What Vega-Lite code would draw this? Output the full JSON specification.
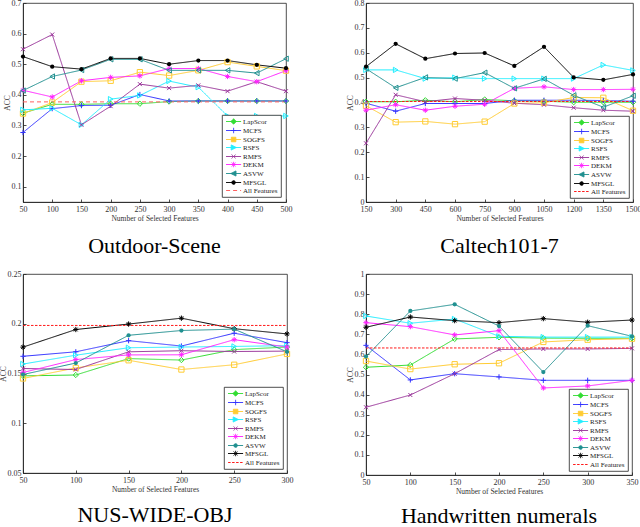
{
  "$schema": "https://vega.github.io/schema/vega-lite/v6.json",
  "padding": {"left": -2, "top": -2, "right": 0, "bottom": 0},
  "background": "white",
  "datasets": {
    "p1": [
      {"x":50,"m":"LapScor","v":0.340},{"x":100,"m":"LapScor","v":0.369},{"x":150,"m":"LapScor","v":0.369},{"x":200,"m":"LapScor","v":0.371},{"x":250,"m":"LapScor","v":0.371},{"x":300,"m":"LapScor","v":0.378},{"x":350,"m":"LapScor","v":0.380},{"x":400,"m":"LapScor","v":0.380},{"x":450,"m":"LapScor","v":0.380},{"x":500,"m":"LapScor","v":0.380},
      {"x":50,"m":"MCFS","v":0.277},{"x":100,"m":"MCFS","v":0.355},{"x":150,"m":"MCFS","v":0.365},{"x":200,"m":"MCFS","v":0.366},{"x":250,"m":"MCFS","v":0.401},{"x":300,"m":"MCFS","v":0.380},{"x":350,"m":"MCFS","v":0.380},{"x":400,"m":"MCFS","v":0.380},{"x":450,"m":"MCFS","v":0.380},{"x":500,"m":"MCFS","v":0.380},
      {"x":50,"m":"SOGFS","v":0.339},{"x":100,"m":"SOGFS","v":0.375},{"x":150,"m":"SOGFS","v":0.443},{"x":200,"m":"SOGFS","v":0.446},{"x":250,"m":"SOGFS","v":0.474},{"x":300,"m":"SOGFS","v":0.463},{"x":350,"m":"SOGFS","v":0.480},{"x":400,"m":"SOGFS","v":0.507},{"x":450,"m":"SOGFS","v":0.493},{"x":500,"m":"SOGFS","v":0.479},
      {"x":50,"m":"RSFS","v":0.351},{"x":100,"m":"RSFS","v":0.356},{"x":150,"m":"RSFS","v":0.302},{"x":200,"m":"RSFS","v":0.386},{"x":250,"m":"RSFS","v":0.398},{"x":300,"m":"RSFS","v":0.445},{"x":350,"m":"RSFS","v":0.425},{"x":400,"m":"RSFS","v":0.331},{"x":450,"m":"RSFS","v":0.331},{"x":500,"m":"RSFS","v":0.331},
      {"x":50,"m":"RMFS","v":0.549},{"x":100,"m":"RMFS","v":0.597},{"x":150,"m":"RMFS","v":0.302},{"x":200,"m":"RMFS","v":0.363},{"x":250,"m":"RMFS","v":0.435},{"x":300,"m":"RMFS","v":0.422},{"x":350,"m":"RMFS","v":0.431},{"x":400,"m":"RMFS","v":0.412},{"x":450,"m":"RMFS","v":0.443},{"x":500,"m":"RMFS","v":0.412},
      {"x":50,"m":"DEKM","v":0.415},{"x":100,"m":"DEKM","v":0.393},{"x":150,"m":"DEKM","v":0.446},{"x":200,"m":"DEKM","v":0.457},{"x":250,"m":"DEKM","v":0.462},{"x":300,"m":"DEKM","v":0.486},{"x":350,"m":"DEKM","v":0.486},{"x":400,"m":"DEKM","v":0.460},{"x":450,"m":"DEKM","v":0.443},{"x":500,"m":"DEKM","v":0.479},
      {"x":50,"m":"ASVW","v":0.414},{"x":100,"m":"ASVW","v":0.460},{"x":150,"m":"ASVW","v":0.481},{"x":200,"m":"ASVW","v":0.516},{"x":250,"m":"ASVW","v":0.516},{"x":300,"m":"ASVW","v":0.480},{"x":350,"m":"ASVW","v":0.480},{"x":400,"m":"ASVW","v":0.480},{"x":450,"m":"ASVW","v":0.471},{"x":500,"m":"ASVW","v":0.518},
      {"x":50,"m":"MFSGL","v":0.525},{"x":100,"m":"MFSGL","v":0.492},{"x":150,"m":"MFSGL","v":0.484},{"x":200,"m":"MFSGL","v":0.519},{"x":250,"m":"MFSGL","v":0.519},{"x":300,"m":"MFSGL","v":0.500},{"x":350,"m":"MFSGL","v":0.512},{"x":400,"m":"MFSGL","v":0.512},{"x":450,"m":"MFSGL","v":0.498},{"x":500,"m":"MFSGL","v":0.487},
      {"x":50,"m":"All Features","v":0.377},{"x":500,"m":"All Features","v":0.377}
    ],
    "p2": [
      {"x":150,"m":"LapScor","v":0.403},{"x":300,"m":"LapScor","v":0.403},{"x":450,"m":"LapScor","v":0.409},{"x":600,"m":"LapScor","v":0.403},{"x":750,"m":"LapScor","v":0.412},{"x":900,"m":"LapScor","v":0.407},{"x":1050,"m":"LapScor","v":0.405},{"x":1200,"m":"LapScor","v":0.401},{"x":1350,"m":"LapScor","v":0.401},{"x":1500,"m":"LapScor","v":0.401},
      {"x":150,"m":"MCFS","v":0.397},{"x":300,"m":"MCFS","v":0.365},{"x":450,"m":"MCFS","v":0.396},{"x":600,"m":"MCFS","v":0.396},{"x":750,"m":"MCFS","v":0.396},{"x":900,"m":"MCFS","v":0.409},{"x":1050,"m":"MCFS","v":0.409},{"x":1200,"m":"MCFS","v":0.409},{"x":1350,"m":"MCFS","v":0.408},{"x":1500,"m":"MCFS","v":0.405},
      {"x":150,"m":"SOGFS","v":0.387},{"x":300,"m":"SOGFS","v":0.321},{"x":450,"m":"SOGFS","v":0.324},{"x":600,"m":"SOGFS","v":0.313},{"x":750,"m":"SOGFS","v":0.323},{"x":900,"m":"SOGFS","v":0.396},{"x":1050,"m":"SOGFS","v":0.399},{"x":1200,"m":"SOGFS","v":0.420},{"x":1350,"m":"SOGFS","v":0.419},{"x":1500,"m":"SOGFS","v":0.367},
      {"x":150,"m":"RSFS","v":0.531},{"x":300,"m":"RSFS","v":0.531},{"x":450,"m":"RSFS","v":0.496},{"x":600,"m":"RSFS","v":0.500},{"x":750,"m":"RSFS","v":0.496},{"x":900,"m":"RSFS","v":0.496},{"x":1050,"m":"RSFS","v":0.496},{"x":1200,"m":"RSFS","v":0.496},{"x":1350,"m":"RSFS","v":0.551},{"x":1500,"m":"RSFS","v":0.529},
      {"x":150,"m":"RMFS","v":0.236},{"x":300,"m":"RMFS","v":0.431},{"x":450,"m":"RMFS","v":0.403},{"x":600,"m":"RMFS","v":0.416},{"x":750,"m":"RMFS","v":0.409},{"x":900,"m":"RMFS","v":0.397},{"x":1050,"m":"RMFS","v":0.391},{"x":1200,"m":"RMFS","v":0.379},{"x":1350,"m":"RMFS","v":0.369},{"x":1500,"m":"RMFS","v":0.365},
      {"x":150,"m":"DEKM","v":0.369},{"x":300,"m":"DEKM","v":0.391},{"x":450,"m":"DEKM","v":0.369},{"x":600,"m":"DEKM","v":0.385},{"x":750,"m":"DEKM","v":0.393},{"x":900,"m":"DEKM","v":0.457},{"x":1050,"m":"DEKM","v":0.463},{"x":1200,"m":"DEKM","v":0.452},{"x":1350,"m":"DEKM","v":0.452},{"x":1500,"m":"DEKM","v":0.453},
      {"x":150,"m":"ASVW","v":0.536},{"x":300,"m":"ASVW","v":0.459},{"x":450,"m":"ASVW","v":0.501},{"x":600,"m":"ASVW","v":0.496},{"x":750,"m":"ASVW","v":0.520},{"x":900,"m":"ASVW","v":0.457},{"x":1050,"m":"ASVW","v":0.495},{"x":1200,"m":"ASVW","v":0.429},{"x":1350,"m":"ASVW","v":0.381},{"x":1500,"m":"ASVW","v":0.427},
      {"x":150,"m":"MFSGL","v":0.544},{"x":300,"m":"MFSGL","v":0.636},{"x":450,"m":"MFSGL","v":0.576},{"x":600,"m":"MFSGL","v":0.597},{"x":750,"m":"MFSGL","v":0.599},{"x":900,"m":"MFSGL","v":0.547},{"x":1050,"m":"MFSGL","v":0.624},{"x":1200,"m":"MFSGL","v":0.501},{"x":1350,"m":"MFSGL","v":0.491},{"x":1500,"m":"MFSGL","v":0.513},
      {"x":150,"m":"All Features","v":0.404},{"x":1500,"m":"All Features","v":0.404}
    ],
    "p3": [
      {"x":50,"m":"LapScor","v":0.1476},{"x":100,"m":"LapScor","v":0.1485},{"x":150,"m":"LapScor","v":0.165},{"x":200,"m":"LapScor","v":0.1635},{"x":250,"m":"LapScor","v":0.174},{"x":300,"m":"LapScor","v":0.1766},
      {"x":50,"m":"MCFS","v":0.1673},{"x":100,"m":"MCFS","v":0.1718},{"x":150,"m":"MCFS","v":0.183},{"x":200,"m":"MCFS","v":0.1776},{"x":250,"m":"MCFS","v":0.1905},{"x":300,"m":"MCFS","v":0.181},
      {"x":50,"m":"SOGFS","v":0.145},{"x":100,"m":"SOGFS","v":0.1556},{"x":150,"m":"SOGFS","v":0.1633},{"x":200,"m":"SOGFS","v":0.154},{"x":250,"m":"SOGFS","v":0.1588},{"x":300,"m":"SOGFS","v":0.1697},
      {"x":50,"m":"RSFS","v":0.1595},{"x":100,"m":"RSFS","v":0.1684},{"x":150,"m":"RSFS","v":0.1759},{"x":200,"m":"RSFS","v":0.1766},{"x":250,"m":"RSFS","v":0.1772},{"x":300,"m":"RSFS","v":0.178},
      {"x":50,"m":"RMFS","v":0.155},{"x":100,"m":"RMFS","v":0.154},{"x":150,"m":"RMFS","v":0.1718},{"x":200,"m":"RMFS","v":0.1729},{"x":250,"m":"RMFS","v":0.1721},{"x":300,"m":"RMFS","v":0.1725},
      {"x":50,"m":"DEKM","v":0.151},{"x":100,"m":"DEKM","v":0.164},{"x":150,"m":"DEKM","v":0.1687},{"x":200,"m":"DEKM","v":0.1688},{"x":250,"m":"DEKM","v":0.184},{"x":300,"m":"DEKM","v":0.1766},
      {"x":50,"m":"ASVW","v":0.149},{"x":100,"m":"ASVW","v":0.1605},{"x":150,"m":"ASVW","v":0.1884},{"x":200,"m":"ASVW","v":0.1932},{"x":250,"m":"ASVW","v":0.1946},{"x":300,"m":"ASVW","v":0.1718},
      {"x":50,"m":"MFSGL","v":0.1765},{"x":100,"m":"MFSGL","v":0.1942},{"x":150,"m":"MFSGL","v":0.1997},{"x":200,"m":"MFSGL","v":0.2056},{"x":250,"m":"MFSGL","v":0.195},{"x":300,"m":"MFSGL","v":0.1898},
      {"x":50,"m":"All Features","v":0.1983},{"x":300,"m":"All Features","v":0.1983}
    ],
    "p4": [
      {"x":50,"m":"LapScor","v":0.536},{"x":100,"m":"LapScor","v":0.547},{"x":150,"m":"LapScor","v":0.677},{"x":200,"m":"LapScor","v":0.685},{"x":250,"m":"LapScor","v":0.681},{"x":300,"m":"LapScor","v":0.680},{"x":350,"m":"LapScor","v":0.680},
      {"x":50,"m":"MCFS","v":0.645},{"x":100,"m":"MCFS","v":0.473},{"x":150,"m":"MCFS","v":0.504},{"x":200,"m":"MCFS","v":0.488},{"x":250,"m":"MCFS","v":0.471},{"x":300,"m":"MCFS","v":0.471},{"x":350,"m":"MCFS","v":0.471},
      {"x":50,"m":"SOGFS","v":0.567},{"x":100,"m":"SOGFS","v":0.527},{"x":150,"m":"SOGFS","v":0.551},{"x":200,"m":"SOGFS","v":0.556},{"x":250,"m":"SOGFS","v":0.662},{"x":300,"m":"SOGFS","v":0.673},{"x":350,"m":"SOGFS","v":0.678},
      {"x":50,"m":"RSFS","v":0.791},{"x":100,"m":"RSFS","v":0.755},{"x":150,"m":"RSFS","v":0.776},{"x":200,"m":"RSFS","v":0.690},{"x":250,"m":"RSFS","v":0.686},{"x":300,"m":"RSFS","v":0.686},{"x":350,"m":"RSFS","v":0.686},
      {"x":50,"m":"RMFS","v":0.337},{"x":100,"m":"RMFS","v":0.398},{"x":150,"m":"RMFS","v":0.504},{"x":200,"m":"RMFS","v":0.624},{"x":250,"m":"RMFS","v":0.627},{"x":300,"m":"RMFS","v":0.627},{"x":350,"m":"RMFS","v":0.630},
      {"x":50,"m":"DEKM","v":0.758},{"x":100,"m":"DEKM","v":0.738},{"x":150,"m":"DEKM","v":0.697},{"x":200,"m":"DEKM","v":0.718},{"x":250,"m":"DEKM","v":0.433},{"x":300,"m":"DEKM","v":0.443},{"x":350,"m":"DEKM","v":0.471},
      {"x":50,"m":"ASVW","v":0.589},{"x":100,"m":"ASVW","v":0.816},{"x":150,"m":"ASVW","v":0.849},{"x":200,"m":"ASVW","v":0.741},{"x":250,"m":"ASVW","v":0.512},{"x":300,"m":"ASVW","v":0.743},{"x":350,"m":"ASVW","v":0.690},
      {"x":50,"m":"MFSGL","v":0.735},{"x":100,"m":"MFSGL","v":0.786},{"x":150,"m":"MFSGL","v":0.768},{"x":200,"m":"MFSGL","v":0.758},{"x":250,"m":"MFSGL","v":0.778},{"x":300,"m":"MFSGL","v":0.760},{"x":350,"m":"MFSGL","v":0.771},
      {"x":50,"m":"All Features","v":0.632},{"x":350,"m":"All Features","v":0.632}
    ]
  },
  "resolve": {"scale": {"color": "independent", "shape": "independent", "strokeDash": "independent"}, "legend": {"color": "independent", "shape": "independent", "strokeDash": "independent"}},
  "columns": 2,
  "align": "none",
  "spacing": {"row": 12, "column": 51},
  "concat": [
    {
      "width": 263, "height": 199,
      "title": {"text": "Outdoor-Scene", "orient": "bottom", "frame": "group", "anchor": "middle", "offset": 14},
      "data": {"name": "p1"},
      "encoding": {
        "x": {"field": "x", "type": "quantitative", "scale": {"domain": [50, 500], "nice": false, "zero": false}, "axis": {"values": [50,100,150,200,250,300,350,400,450,500], "format": "d", "title": "Number of Selected Features"}},
        "y": {"field": "v", "type": "quantitative", "scale": {"domain": [0.05, 0.7], "nice": false, "zero": false}, "axis": {"values": [0.1,0.2,0.3,0.4,0.5,0.6,0.7], "format": ".1f", "title": "ACC"}}
      },
      "layer": [
        {
          "mark": {"type": "line", "strokeWidth": 1},
          "encoding": {
            "color": {"field": "m", "type": "nominal",
              "scale": {"domain": ["LapScor","MCFS","SOGFS","RSFS","RMFS","DEKM","ASVW","MFSGL","All Features"], "range": ["#33dd33","#3333ff","#ffcc33","#22eeff","#993399","#ff22ff","#209090","#000000","#ff6060"]},
              "legend": {"title": null, "orient": "bottom-right", "offset": 5,
                "encode": {"symbols": {"update": {
                  "shape": {"signal": "{'LapScor':'M-0.8,0H4.2M1.7,-0.9L2.6,0L1.7,0.9L0.8,0Z','MCFS':'M-0.8,0H4.2M0.8,0H2.6M1.7,-0.9V0.9','SOGFS':'M-0.8,0H4.2M0.95,-0.75H2.45V0.75H0.95Z','RSFS':'M-0.8,0H4.2M0.9,-0.85L2.6,0L0.9,0.85Z','RMFS':'M-0.8,0H4.2M1.05,-0.65L2.35,0.65M1.05,0.65L2.35,-0.65','DEKM':'M-0.8,0H4.2M0.8,0H2.6M1.7,-0.9V0.9M1.05,-0.65L2.35,0.65M1.05,0.65L2.35,-0.65','ASVW':'M-0.8,0H4.2M2.5,-0.85L0.8,0L2.5,0.85Z','MFSGL':'M-0.8,0H4.2M2.3,0A0.6,0.6,0,1,1,1.1,0A0.6,0.6,0,1,1,2.3,0Z','All Features':'M-0.8,0H4.2'}[datum.value]"},
                  "stroke": {"signal": "{'LapScor':'#33dd33','MCFS':'#3333ff','SOGFS':'#ffcc33','RSFS':'#22eeff','RMFS':'#993399','DEKM':'#ff22ff','ASVW':'#209090','MFSGL':'#000000','All Features':'#ff6060'}[datum.value]"},
                  "fill": {"signal": "datum.value === 'MFSGL' ? '#000000' : 'transparent'"},
                  "strokeDash": {"signal": "datum.value === 'All Features' ? [4,3] : [1,0]"},
                  "strokeWidth": {"value": 1},
                  "opacity": {"value": 1}
                }}}
              }
            },
            "strokeDash": {"field": "m", "type": "nominal", "scale": {"domain": ["LapScor","MCFS","SOGFS","RSFS","RMFS","DEKM","ASVW","MFSGL","All Features"], "range": [[1,0],[1,0],[1,0],[1,0],[1,0],[1,0],[1,0],[1,0],[4,3]]}, "legend": null}
          }
        },
        {
          "transform": [{"filter": {"field": "m", "oneOf": ["LapScor","MCFS","SOGFS","RSFS","RMFS","DEKM","ASVW"]}}],
          "mark": {"type": "point", "filled": false, "size": 28, "strokeWidth": 1, "opacity": 1},
          "encoding": {
            "color": {"field": "m", "type": "nominal", "legend": null},
            "shape": {"field": "m", "type": "nominal", "legend": null, "scale": {"domain": ["LapScor","MCFS","SOGFS","RSFS","RMFS","DEKM","ASVW","MFSGL"], "range": ["diamond","M-1,0H1M0,-1V1","square","triangle-right","M-0.75,-0.75L0.75,0.75M-0.75,0.75L0.75,-0.75","M-1,0H1M0,-1V1M-0.7,-0.7L0.7,0.7M-0.7,0.7L0.7,-0.7","triangle-left","circle"]}}
          }
        },
        {
          "transform": [{"filter": {"field": "m", "oneOf": ["MFSGL"]}}],
          "mark": {"type": "point", "filled": true, "size": 18, "opacity": 1, "shape": "circle"},
          "encoding": {"color": {"field": "m", "type": "nominal", "legend": null}}
        }
      ]
    },
    {
      "width": 267, "height": 199,
      "title": {"text": "Caltech101-7", "orient": "bottom", "frame": "group", "anchor": "middle", "offset": 14},
      "data": {"name": "p2"},
      "encoding": {
        "x": {"field": "x", "type": "quantitative", "scale": {"domain": [150, 1500], "nice": false, "zero": false}, "axis": {"values": [150,300,450,600,750,900,1050,1200,1350,1500], "format": "d", "title": "Number of Selected Features"}},
        "y": {"field": "v", "type": "quantitative", "scale": {"domain": [0, 0.8], "nice": false, "zero": false}, "axis": {"values": [0,0.1,0.2,0.3,0.4,0.5,0.6,0.7,0.8], "format": "~g", "title": "ACC"}}
      },
      "layer": [
        {
          "mark": {"type": "line", "strokeWidth": 1},
          "encoding": {
            "color": {"field": "m", "type": "nominal",
              "scale": {"domain": ["LapScor","MCFS","SOGFS","RSFS","RMFS","DEKM","ASVW","MFSGL","All Features"], "range": ["#33dd33","#3333ff","#ffcc33","#22eeff","#993399","#ff22ff","#209090","#000000","#ff1a1a"]},
              "legend": {"title": null, "orient": "bottom-right", "offset": 4,
                "encode": {"symbols": {"update": {
                  "shape": {"signal": "{'LapScor':'M-0.8,0H4.2M1.7,-0.9L2.6,0L1.7,0.9L0.8,0Z','MCFS':'M-0.8,0H4.2M0.8,0H2.6M1.7,-0.9V0.9','SOGFS':'M-0.8,0H4.2M0.95,-0.75H2.45V0.75H0.95Z','RSFS':'M-0.8,0H4.2M0.9,-0.85L2.6,0L0.9,0.85Z','RMFS':'M-0.8,0H4.2M1.05,-0.65L2.35,0.65M1.05,0.65L2.35,-0.65','DEKM':'M-0.8,0H4.2M0.8,0H2.6M1.7,-0.9V0.9M1.05,-0.65L2.35,0.65M1.05,0.65L2.35,-0.65','ASVW':'M-0.8,0H4.2M2.5,-0.85L0.8,0L2.5,0.85Z','MFSGL':'M-0.8,0H4.2M2.3,0A0.6,0.6,0,1,1,1.1,0A0.6,0.6,0,1,1,2.3,0Z','All Features':'M-0.8,0H4.2'}[datum.value]"},
                  "stroke": {"signal": "{'LapScor':'#33dd33','MCFS':'#3333ff','SOGFS':'#ffcc33','RSFS':'#22eeff','RMFS':'#993399','DEKM':'#ff22ff','ASVW':'#209090','MFSGL':'#000000','All Features':'#ff1a1a'}[datum.value]"},
                  "fill": {"signal": "datum.value === 'MFSGL' ? '#000000' : 'transparent'"},
                  "strokeDash": {"signal": "datum.value === 'All Features' ? [2.5,1.5] : [1,0]"},
                  "strokeWidth": {"value": 1},
                  "opacity": {"value": 1}
                }}}
              }
            },
            "strokeDash": {"field": "m", "type": "nominal", "scale": {"domain": ["LapScor","MCFS","SOGFS","RSFS","RMFS","DEKM","ASVW","MFSGL","All Features"], "range": [[1,0],[1,0],[1,0],[1,0],[1,0],[1,0],[1,0],[1,0],[2.5,1.5]]}, "legend": null}
          }
        },
        {
          "transform": [{"filter": {"field": "m", "oneOf": ["LapScor","MCFS","SOGFS","RSFS","RMFS","DEKM","ASVW"]}}],
          "mark": {"type": "point", "filled": false, "size": 28, "strokeWidth": 1, "opacity": 1},
          "encoding": {
            "color": {"field": "m", "type": "nominal", "legend": null},
            "shape": {"field": "m", "type": "nominal", "legend": null, "scale": {"domain": ["LapScor","MCFS","SOGFS","RSFS","RMFS","DEKM","ASVW","MFSGL"], "range": ["diamond","M-1,0H1M0,-1V1","square","triangle-right","M-0.75,-0.75L0.75,0.75M-0.75,0.75L0.75,-0.75","M-1,0H1M0,-1V1M-0.7,-0.7L0.7,0.7M-0.7,0.7L0.7,-0.7","triangle-left","circle"]}}
          }
        },
        {
          "transform": [{"filter": {"field": "m", "oneOf": ["MFSGL"]}}],
          "mark": {"type": "point", "filled": true, "size": 18, "opacity": 1, "shape": "circle"},
          "encoding": {"color": {"field": "m", "type": "nominal", "legend": null}}
        }
      ]
    },
    {
      "width": 264, "height": 199,
      "title": {"text": "NUS-WIDE-OBJ", "orient": "bottom", "frame": "group", "anchor": "middle", "offset": 12},
      "data": {"name": "p3"},
      "encoding": {
        "x": {"field": "x", "type": "quantitative", "scale": {"domain": [50, 300], "nice": false, "zero": false}, "axis": {"values": [50,100,150,200,250,300], "format": "d", "title": "Number of Selected Features"}},
        "y": {"field": "v", "type": "quantitative", "scale": {"domain": [0.05, 0.25], "nice": false, "zero": false}, "axis": {"values": [0.05,0.1,0.15,0.2,0.25], "format": "~g", "title": "ACC"}}
      },
      "layer": [
        {
          "mark": {"type": "line", "strokeWidth": 1},
          "encoding": {
            "color": {"field": "m", "type": "nominal",
              "scale": {"domain": ["LapScor","MCFS","SOGFS","RSFS","RMFS","DEKM","ASVW","MFSGL","All Features"], "range": ["#33dd33","#3333ff","#ffcc33","#22eeff","#993399","#ff22ff","#209090","#000000","#ff1a1a"]},
              "legend": {"title": null, "orient": "bottom-right", "offset": 4,
                "encode": {"symbols": {"update": {
                  "shape": {"signal": "{'LapScor':'M-0.8,0H4.2M1.7,-0.9L2.6,0L1.7,0.9L0.8,0Z','MCFS':'M-0.8,0H4.2M0.8,0H2.6M1.7,-0.9V0.9','SOGFS':'M-0.8,0H4.2M0.95,-0.75H2.45V0.75H0.95Z','RSFS':'M-0.8,0H4.2M0.9,-0.85L2.6,0L0.9,0.85Z','RMFS':'M-0.8,0H4.2M1.05,-0.65L2.35,0.65M1.05,0.65L2.35,-0.65','DEKM':'M-0.8,0H4.2M0.8,0H2.6M1.7,-0.9V0.9M1.05,-0.65L2.35,0.65M1.05,0.65L2.35,-0.65','ASVW':'M-0.8,0H4.2M2.3,0A0.6,0.6,0,1,1,1.1,0A0.6,0.6,0,1,1,2.3,0Z','MFSGL':'M-0.8,0H4.2M0.8,0H2.6M1.7,-0.9V0.9M1.05,-0.65L2.35,0.65M1.05,0.65L2.35,-0.65','All Features':'M-0.8,0H4.2'}[datum.value]"},
                  "stroke": {"signal": "{'LapScor':'#33dd33','MCFS':'#3333ff','SOGFS':'#ffcc33','RSFS':'#22eeff','RMFS':'#993399','DEKM':'#ff22ff','ASVW':'#209090','MFSGL':'#000000','All Features':'#ff1a1a'}[datum.value]"},
                  "fill": {"signal": "datum.value === 'ASVW' ? '#209090' : 'transparent'"},
                  "strokeDash": {"signal": "datum.value === 'All Features' ? [2.5,1.5] : [1,0]"},
                  "strokeWidth": {"value": 1},
                  "opacity": {"value": 1}
                }}}
              }
            },
            "strokeDash": {"field": "m", "type": "nominal", "scale": {"domain": ["LapScor","MCFS","SOGFS","RSFS","RMFS","DEKM","ASVW","MFSGL","All Features"], "range": [[1,0],[1,0],[1,0],[1,0],[1,0],[1,0],[1,0],[1,0],[2.5,1.5]]}, "legend": null}
          }
        },
        {
          "transform": [{"filter": {"field": "m", "oneOf": ["LapScor","MCFS","SOGFS","RSFS","RMFS","DEKM","MFSGL"]}}],
          "mark": {"type": "point", "filled": false, "size": 28, "strokeWidth": 1, "opacity": 1},
          "encoding": {
            "color": {"field": "m", "type": "nominal", "legend": null},
            "shape": {"field": "m", "type": "nominal", "legend": null, "scale": {"domain": ["LapScor","MCFS","SOGFS","RSFS","RMFS","DEKM","ASVW","MFSGL"], "range": ["diamond","M-1,0H1M0,-1V1","square","triangle-right","M-0.75,-0.75L0.75,0.75M-0.75,0.75L0.75,-0.75","M-1,0H1M0,-1V1M-0.7,-0.7L0.7,0.7M-0.7,0.7L0.7,-0.7","circle","M-1,0H1M0,-1V1M-0.7,-0.7L0.7,0.7M-0.7,0.7L0.7,-0.7"]}}
          }
        },
        {
          "transform": [{"filter": {"field": "m", "oneOf": ["ASVW"]}}],
          "mark": {"type": "point", "filled": true, "size": 18, "opacity": 1, "shape": "circle"},
          "encoding": {"color": {"field": "m", "type": "nominal", "legend": null}}
        }
      ]
    },
    {
      "width": 266, "height": 201,
      "title": {"text": "Handwritten numerals", "orient": "bottom", "frame": "group", "anchor": "middle", "offset": 11},
      "data": {"name": "p4"},
      "encoding": {
        "x": {"field": "x", "type": "quantitative", "scale": {"domain": [50, 350], "nice": false, "zero": false}, "axis": {"values": [50,100,150,200,250,300,350], "format": "d", "title": "Number of Selected Features"}},
        "y": {"field": "v", "type": "quantitative", "scale": {"domain": [0, 1], "nice": false, "zero": false}, "axis": {"values": [0,0.1,0.2,0.3,0.4,0.5,0.6,0.7,0.8,0.9,1], "format": "~g", "title": "ACC"}}
      },
      "layer": [
        {
          "mark": {"type": "line", "strokeWidth": 1},
          "encoding": {
            "color": {"field": "m", "type": "nominal",
              "scale": {"domain": ["LapScor","MCFS","SOGFS","RSFS","RMFS","DEKM","ASVW","MFSGL","All Features"], "range": ["#33dd33","#3333ff","#ffcc33","#22eeff","#993399","#ff22ff","#209090","#000000","#ff1a1a"]},
              "legend": {"title": null, "orient": "bottom-right", "offset": 4,
                "encode": {"symbols": {"update": {
                  "shape": {"signal": "{'LapScor':'M-0.8,0H4.2M1.7,-0.9L2.6,0L1.7,0.9L0.8,0Z','MCFS':'M-0.8,0H4.2M0.8,0H2.6M1.7,-0.9V0.9','SOGFS':'M-0.8,0H4.2M0.95,-0.75H2.45V0.75H0.95Z','RSFS':'M-0.8,0H4.2M0.9,-0.85L2.6,0L0.9,0.85Z','RMFS':'M-0.8,0H4.2M1.05,-0.65L2.35,0.65M1.05,0.65L2.35,-0.65','DEKM':'M-0.8,0H4.2M0.8,0H2.6M1.7,-0.9V0.9M1.05,-0.65L2.35,0.65M1.05,0.65L2.35,-0.65','ASVW':'M-0.8,0H4.2M2.3,0A0.6,0.6,0,1,1,1.1,0A0.6,0.6,0,1,1,2.3,0Z','MFSGL':'M-0.8,0H4.2M0.8,0H2.6M1.7,-0.9V0.9M1.05,-0.65L2.35,0.65M1.05,0.65L2.35,-0.65','All Features':'M-0.8,0H4.2'}[datum.value]"},
                  "stroke": {"signal": "{'LapScor':'#33dd33','MCFS':'#3333ff','SOGFS':'#ffcc33','RSFS':'#22eeff','RMFS':'#993399','DEKM':'#ff22ff','ASVW':'#209090','MFSGL':'#000000','All Features':'#ff1a1a'}[datum.value]"},
                  "fill": {"signal": "datum.value === 'ASVW' ? '#209090' : 'transparent'"},
                  "strokeDash": {"signal": "datum.value === 'All Features' ? [2.5,1.5] : [1,0]"},
                  "strokeWidth": {"value": 1},
                  "opacity": {"value": 1}
                }}}
              }
            },
            "strokeDash": {"field": "m", "type": "nominal", "scale": {"domain": ["LapScor","MCFS","SOGFS","RSFS","RMFS","DEKM","ASVW","MFSGL","All Features"], "range": [[1,0],[1,0],[1,0],[1,0],[1,0],[1,0],[1,0],[1,0],[2.5,1.5]]}, "legend": null}
          }
        },
        {
          "transform": [{"filter": {"field": "m", "oneOf": ["LapScor","MCFS","SOGFS","RSFS","RMFS","DEKM","MFSGL"]}}],
          "mark": {"type": "point", "filled": false, "size": 28, "strokeWidth": 1, "opacity": 1},
          "encoding": {
            "color": {"field": "m", "type": "nominal", "legend": null},
            "shape": {"field": "m", "type": "nominal", "legend": null, "scale": {"domain": ["LapScor","MCFS","SOGFS","RSFS","RMFS","DEKM","ASVW","MFSGL"], "range": ["diamond","M-1,0H1M0,-1V1","square","triangle-right","M-0.75,-0.75L0.75,0.75M-0.75,0.75L0.75,-0.75","M-1,0H1M0,-1V1M-0.7,-0.7L0.7,0.7M-0.7,0.7L0.7,-0.7","circle","M-1,0H1M0,-1V1M-0.7,-0.7L0.7,0.7M-0.7,0.7L0.7,-0.7"]}}
          }
        },
        {
          "transform": [{"filter": {"field": "m", "oneOf": ["ASVW"]}}],
          "mark": {"type": "point", "filled": true, "size": 18, "opacity": 1, "shape": "circle"},
          "encoding": {"color": {"field": "m", "type": "nominal", "legend": null}}
        }
      ]
    }
  ],
  "config": {
    "view": {"stroke": "#222222", "strokeWidth": 0.8},
    "axis": {"labelFont": "Liberation Serif", "labelFontSize": 8, "labelColor": "#333333", "titleFont": "Liberation Serif", "titleFontSize": 7.5, "titleFontWeight": "normal", "titleColor": "#333333", "domainColor": "#222222", "domainWidth": 0.8, "tickColor": "#222222", "tickSize": -3, "tickWidth": 0.8, "grid": false, "labelFlush": false, "labelOverlap": false},
    "axisX": {"labelPadding": 6, "titlePadding": 1},
    "axisY": {"labelPadding": 5, "titlePadding": 0},
    "legend": {"fillColor": "white", "strokeColor": "#222222", "strokeWidth": 0.8, "padding": 3, "cornerRadius": 0, "labelFont": "Liberation Serif", "labelFontSize": 7, "labelColor": "#222222", "symbolSize": 36, "symbolStrokeWidth": 1, "labelOffset": 11, "rowPadding": -2},
    "title": {"font": "Liberation Serif", "fontSize": 22, "fontWeight": "normal", "color": "black"}
  }
}
